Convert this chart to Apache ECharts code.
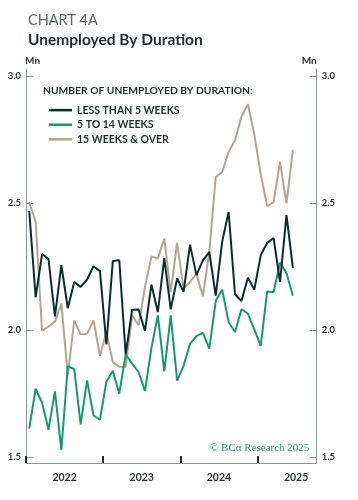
<!DOCTYPE html>
<html><head><meta charset="utf-8">
<script src="https://cdn.jsdelivr.net/npm/echarts@6/dist/echarts.min.js"></script>
<style>html,body{margin:0;padding:0;background:#fff}#c{width:358px;height:500px}</style>
</head><body><div id="c"></div>
<script>
const months = [
 '2022-01','2022-02','2022-03','2022-04','2022-05','2022-06','2022-07','2022-08','2022-09','2022-10','2022-11','2022-12',
 '2023-01','2023-02','2023-03','2023-04','2023-05','2023-06','2023-07','2023-08','2023-09','2023-10','2023-11','2023-12',
 '2024-01','2024-02','2024-03','2024-04','2024-05','2024-06','2024-07','2024-08','2024-09','2024-10','2024-11','2024-12',
 '2025-01','2025-02','2025-03','2025-04','2025-05','2025-06'];
const lessThan5 = [2.47,2.13,2.30,2.28,2.055,2.256,2.087,2.19,2.171,2.20,2.252,2.233,
 1.945,2.273,2.276,1.905,2.081,2.082,1.998,2.18,2.072,2.284,2.083,2.204,
 2.151,2.337,2.217,2.275,2.308,2.136,2.348,2.466,2.142,2.115,2.207,2.16,
 2.295,2.344,2.363,2.19,2.453,2.246];
const fiveTo14 = [1.613,1.77,1.715,1.609,1.76,1.53,1.858,1.847,1.63,1.803,1.665,1.648,
 1.798,1.841,1.751,1.905,1.869,1.836,1.762,1.93,2.059,1.838,2.059,1.802,
 1.86,1.947,1.977,1.99,1.928,2.115,2.16,2.033,1.993,2.083,2.066,2.003,
 1.939,2.153,2.15,2.267,2.225,2.136];
const over15 = [2.505,2.426,1.998,2.015,2.034,2.105,1.823,2.039,1.984,1.986,2.039,1.90,
 1.993,1.875,1.857,1.856,2.059,2.02,2.171,2.291,2.282,2.361,2.15,2.344,
 2.164,2.19,2.223,2.134,2.308,2.602,2.623,2.702,2.748,2.84,2.89,2.77,
 2.615,2.488,2.504,2.663,2.499,2.711];
const seriesNames = ['LESS THAN 5 WEEKS','5 TO 14 WEEKS','15 WEEKS & OVER'];
const yearLabels = ['2022','2023','2024','2025'];
const yearTickPos = [0,12,24,36];
const yearLabelPos = [6,18,30,42];
const yTicks = [1.5,2.0,2.5,3.0];

function monthPos(m){ const p = m.split('-').map(Number); return (p[0]-2022)*12 + (p[1]-1) + 0.5; }
function pairs(vals){ return vals.map((v,i)=>[monthPos(months[i]), v]); }

const axisGray = '#8c9797';
const txt = '#2a3333';
const FONT = 'Lato';
const chart = echarts.init(document.getElementById('c'), null, {renderer:'canvas'});

function yAxisDef(pos){
  return {
    type:'value', position: pos, min:1.478, max:3.028,
    name:'Mn', nameLocation:'end', nameGap:3,
    nameTextStyle:{align: pos==='left'?'left':'right', fontFamily:FONT, fontSize:10, fontWeight:'bold', color:txt,
      padding: pos==='left'?[0,0,0,-1]:[0,0,0,0]},
    axisLine:{show:true, lineStyle:{color:axisGray, width:1}},
    axisTick:{show:true, inside:true, length:7, customValues:yTicks, lineStyle:{color:axisGray, width:1}},
    axisLabel:{customValues:yTicks, formatter:v=>v.toFixed(1), margin:5, fontFamily:FONT, fontSize:9.5, fontWeight:'bold', color:txt},
    splitLine:{show:false}
  };
}

chart.setOption({
  animation:false,
  backgroundColor:'#fff',
  textStyle:{fontFamily:FONT},
  title:[
    {text:'CHART 4A', left:23, top:8, textStyle:{fontFamily:FONT, fontSize:14.5, fontWeight:'normal', color:'#5a6564'}},
    {text:'Unemployed By Duration', left:23, top:27, textStyle:{fontFamily:FONT, fontSize:15.5, fontWeight:'bold', color:'#1c2b30'}}
  ],
  grid:{left:26, right:41.3, top:69, bottom:37, containLabel:false},
  legend:{
    data:seriesNames, orient:'vertical', left:44, top:99, icon:'rect', itemWidth:23, itemHeight:2.5, itemGap:2.3,
    textStyle:{fontFamily:FONT, fontSize:10.5, fontWeight:'bold', color:'#1c2b2b', lineHeight:12.3}
  },
  graphic:[
    {type:'text', left:43, top:86, style:{text:'NUMBER OF UNEMPLOYED BY DURATION:', font:'bold 10.3px Lato', fill:'#1c2b2b'}},
    {type:'text', left:210, top:443, style:{text:'\u00A9 BC\u03B1 Research 2025', font:'11px "Liberation Serif"', fill:'#2f9a78'}}
  ],
  xAxis:{
    type:'value', min:0, max:45.2,
    axisLine:{show:true, lineStyle:{color:axisGray, width:1}},
    axisTick:{show:true, inside:true, length:7, customValues:yearTickPos, lineStyle:{color:'#1d2a2a', width:2}},
    axisLabel:{customValues:yearLabelPos, formatter:v=>yearLabels[Math.floor(v/12)], margin:9, fontFamily:FONT, fontSize:10.5, fontWeight:'bold', color:txt},
    splitLine:{show:false}
  },
  yAxis:[yAxisDef('left'), yAxisDef('right')],
  series:[
    {name:seriesNames[2], type:'line', data:pairs(over15), showSymbol:false, lineStyle:{color:'#b3a596', width:2}, itemStyle:{color:'#b3a596'}},
    {name:seriesNames[1], type:'line', data:pairs(fiveTo14), showSymbol:false, lineStyle:{color:'#17996f', width:2}, itemStyle:{color:'#17996f'}},
    {name:seriesNames[0], type:'line', data:pairs(lessThan5), showSymbol:false, lineStyle:{color:'#0e2c2c', width:2}, itemStyle:{color:'#0e2c2c'}}
  ]
});
</script></body></html>
